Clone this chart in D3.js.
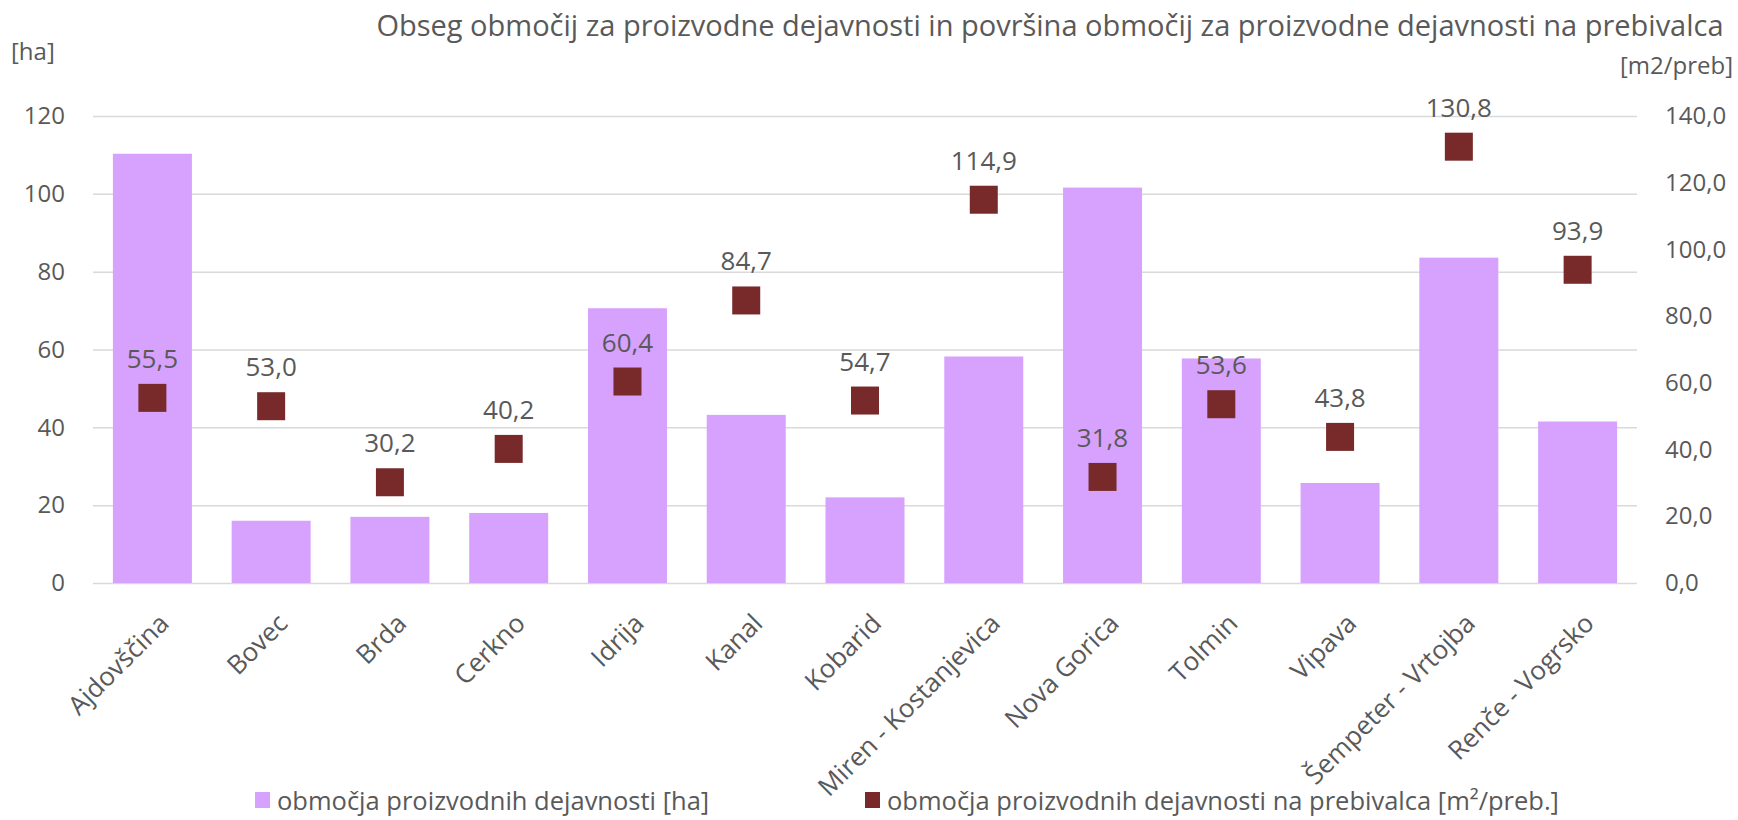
<html>
<head>
<meta charset="utf-8" />
<title>Obseg območij za proizvodne dejavnosti</title>
<script src="https://cdn.jsdelivr.net/npm/d3@7"></script>
<style>
  body { margin: 0; background: #fff; }
  text { font-family: "Open Sans", "Noto Sans", sans-serif; fill: #595959; }
</style>
</head>
<body>
<script>
// data
var categories = ["Ajdovščina", "Bovec", "Brda", "Cerkno", "Idrija", "Kanal", "Kobarid",
  "Miren - Kostanjevica", "Nova Gorica", "Tolmin", "Vipava", "Šempeter - Vrtojba", "Renče - Vogrsko"];
var areaHa = [110.3, 16.0, 17.0, 18.0, 70.6, 43.2, 22.0, 58.2, 101.6, 57.7, 25.7, 83.6, 41.5];
var perCapita = [55.5, 53.0, 30.2, 40.2, 60.4, 84.7, 54.7, 114.9, 31.8, 53.6, 43.8, 130.8, 93.9];
var leftTicks = [0, 20, 40, 60, 80, 100, 120];
var rightTicks = [0, 20, 40, 60, 80, 100, 120, 140];

var W = 1738, H = 820;
var plot = {left: 93, right: 1637, top: 116, bottom: 583};
var barColor = "#d7a1fe", markColor = "#782a2b", gridColor = "#d9d9d9";
var fs = 24;

var commaFmt = function(v) { return d3.format(".1f")(v).replace(".", ","); };

var svg = d3.select("body").append("svg")
  .attr("width", W)
  .attr("height", H)
  .attr("xmlns", "http://www.w3.org/2000/svg");

var x = d3.scaleBand().domain(categories).range([plot.left, plot.right])
  .paddingInner(0.335).paddingOuter(0.1675);
var yL = d3.scaleLinear().domain([0, 120]).range([plot.bottom, plot.top]);
var yR = d3.scaleLinear().domain([0, 140]).range([plot.bottom, plot.top]);

// gridlines + left axis
var gL = svg.append("g").attr("transform", "translate(" + plot.left + ",0)")
  .call(d3.axisLeft(yL).tickValues(leftTicks).tickSize(-(plot.right - plot.left)).tickPadding(28));
gL.select(".domain").remove();
gL.selectAll("line").attr("stroke", gridColor).attr("stroke-width", 1.5);
gL.selectAll("text").attr("font-size", fs).style("font-family", null).attr("fill", "#595959");

// right axis (labels only)
var gR = svg.append("g").attr("transform", "translate(" + plot.right + ",0)")
  .call(d3.axisRight(yR).tickValues(rightTicks).tickSize(0).tickPadding(28).tickFormat(commaFmt));
gR.select(".domain").remove();
gR.selectAll("text").attr("font-size", fs).style("font-family", null).attr("fill", "#595959");

// bars
svg.append("g").selectAll("rect").data(categories).join("rect")
  .attr("x", function(d) { return x(d); })
  .attr("width", x.bandwidth())
  .attr("y", function(d, i) { return yL(areaHa[i]); })
  .attr("height", function(d, i) { return yL(0) - yL(areaHa[i]); })
  .attr("fill", barColor);

// markers
var ms = 28;
svg.append("g").selectAll("rect").data(categories).join("rect")
  .attr("x", function(d) { return x(d) + x.bandwidth() / 2 - ms / 2; })
  .attr("y", function(d, i) { return yR(perCapita[i]) - ms / 2; })
  .attr("width", ms).attr("height", ms)
  .attr("fill", markColor);

// marker labels
svg.append("g").selectAll("text").data(categories).join("text")
  .attr("x", function(d) { return x(d) + x.bandwidth() / 2; })
  .attr("y", function(d, i) { return yR(perCapita[i]) - 40; })
  .attr("text-anchor", "middle")
  .attr("dominant-baseline", "central")
  .attr("font-size", 26)
  .attr("fill", "#404040")
  .text(function(d, i) { return commaFmt(perCapita[i]); });

// category labels
svg.append("g").selectAll("text").data(categories).join("text")
  .attr("transform", function(d) {
    return "translate(" + (x(d) + x.bandwidth() / 2 + 18) + "," + (plot.bottom + 42) + ") rotate(-45)";
  })
  .attr("text-anchor", "end")
  .attr("font-size", 26)
  .text(function(d) { return d; });

// title and axis units
svg.append("text")
  .attr("x", 1050).attr("y", 24)
  .attr("text-anchor", "middle")
  .attr("dominant-baseline", "central")
  .attr("font-size", 29)
  .text("Obseg območij za proizvodne dejavnosti in površina območij za proizvodne dejavnosti na prebivalca");

svg.append("text")
  .attr("x", 11).attr("y", 50)
  .attr("dominant-baseline", "central")
  .attr("font-size", fs)
  .text("[ha]");

svg.append("text")
  .attr("x", 1733).attr("y", 64)
  .attr("text-anchor", "end")
  .attr("dominant-baseline", "central")
  .attr("font-size", fs)
  .text("[m2/preb]");

// legend
var legend = [
  {label: "območja proizvodnih dejavnosti [ha]", color: barColor, x: 255},
  {label: "območja proizvodnih dejavnosti na prebivalca [m²/preb.]", color: markColor, x: 865}
];
var lg = svg.append("g").selectAll("g").data(legend).join("g")
  .attr("transform", function(d) { return "translate(" + d.x + ",800)"; });
lg.append("rect").attr("x", 0).attr("y", -8).attr("width", 15).attr("height", 16)
  .attr("fill", function(d) { return d.color; });
lg.append("text").attr("x", 22).attr("y", 0)
  .attr("dominant-baseline", "central")
  .attr("font-size", 25.5)
  .text(function(d) { return d.label; });
</script>
</body>
</html>
